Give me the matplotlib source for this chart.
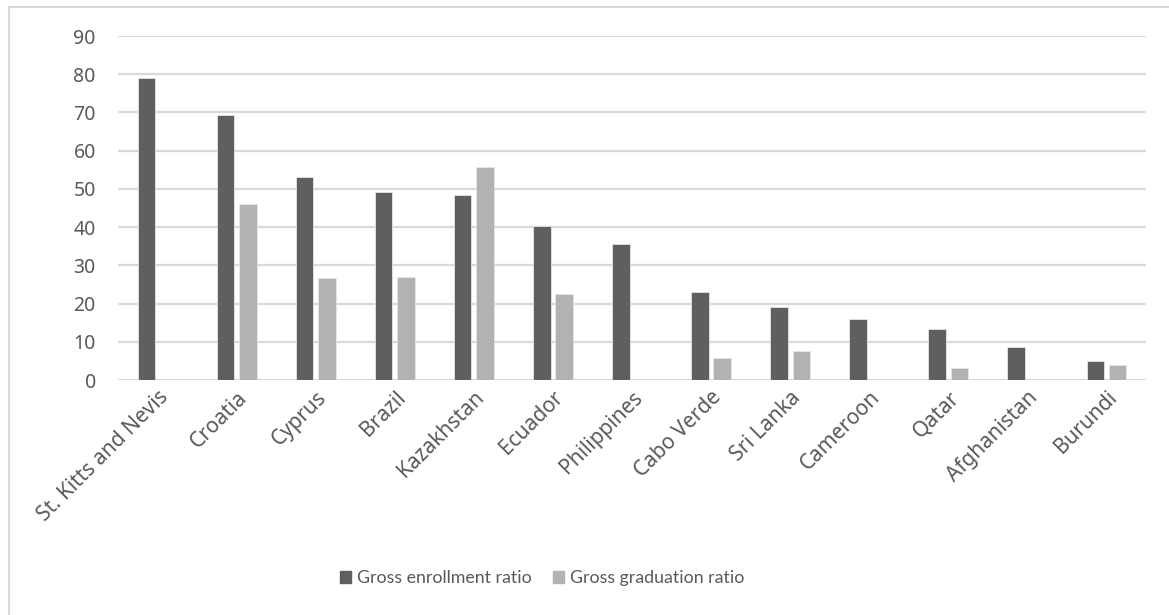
import numpy as np
import matplotlib
matplotlib.use("Agg")
import matplotlib.pyplot as plt
from matplotlib.patches import Rectangle, Patch

plt.rcParams['font.family'] = ['Noto Sans', 'DejaVu Sans']

countries = ["St. Kitts and Nevis", "Croatia", "Cyprus", "Brazil", "Kazakhstan",
             "Ecuador", "Philippines", "Cabo Verde", "Sri Lanka", "Cameroon",
             "Qatar", "Afghanistan", "Burundi"]
enrollment = [79.0, 69.4, 53.0, 49.2, 48.4, 40.4, 35.7, 22.9, 19.2, 15.9, 13.3, 8.6, 4.9]
graduation = [np.nan, 46.1, 26.6, 27.0, 55.6, 22.4, np.nan, 5.7, 7.7, np.nan, 3.1, np.nan, 4.0]
yticks = [0, 10, 20, 30, 40, 50, 60, 70, 80, 90]

dark = "#5f5f5f"
light = "#b2b2b2"
text_col = "#595959"
grid_col = "#d9d9d9"

fig = plt.figure(figsize=(11.69, 6.15), dpi=100)
ax = fig.add_axes([118 / 1169, 1 - 380 / 615, (1146 - 118) / 1169, (380 - 36) / 615])

x = np.arange(len(countries))
w = 0.222
off = 0.141
ax.bar(x - off, enrollment, width=w, color=dark, edgecolor="#e6e6e6", linewidth=0.6, zorder=3)
ax.bar(x + off, graduation, width=w, color=light, edgecolor="#e6e6e6", linewidth=0.6, zorder=3)

ax.set_xlim(-0.5, len(countries) - 0.5)
ax.set_ylim(0, 90)
ax.set_yticks(yticks)
ax.set_yticklabels([str(t) for t in yticks], fontsize=14, color=text_col)
ax.yaxis.grid(True, color=grid_col, linewidth=1.6, zorder=0)
ax.set_axisbelow(True)
for s in ax.spines.values():
    s.set_visible(False)
ax.tick_params(axis='y', length=0, pad=16)
ax.tick_params(axis='x', length=0, pad=5)
ax.set_xticks(x)
ax.set_xticklabels(countries, rotation=45, ha='right', rotation_mode='anchor',
                   fontsize=15, color=text_col)

# chart-area border
fig.patches.append(Rectangle((9 / 1169, -0.1), 1.2, 1 - 7 / 615 + 0.1,
                             transform=fig.transFigure, fill=False,
                             edgecolor=grid_col, linewidth=1.5))

handles = [Patch(facecolor=dark, edgecolor=dark, label="Gross enrollment ratio"),
           Patch(facecolor=light, edgecolor=light, label="Gross graduation ratio")]
fig.legend(handles=handles, loc='center', bbox_to_anchor=(542 / 1169, 1 - 578 / 615),
           ncol=2, frameon=False, labelcolor=text_col,
           prop={'family': ['Lato', 'DejaVu Sans'], 'size': 12.8},
           handlelength=0.65, handleheight=0.65, handletextpad=0.3, columnspacing=1.2)

fig.savefig("out.png", dpi=100)
